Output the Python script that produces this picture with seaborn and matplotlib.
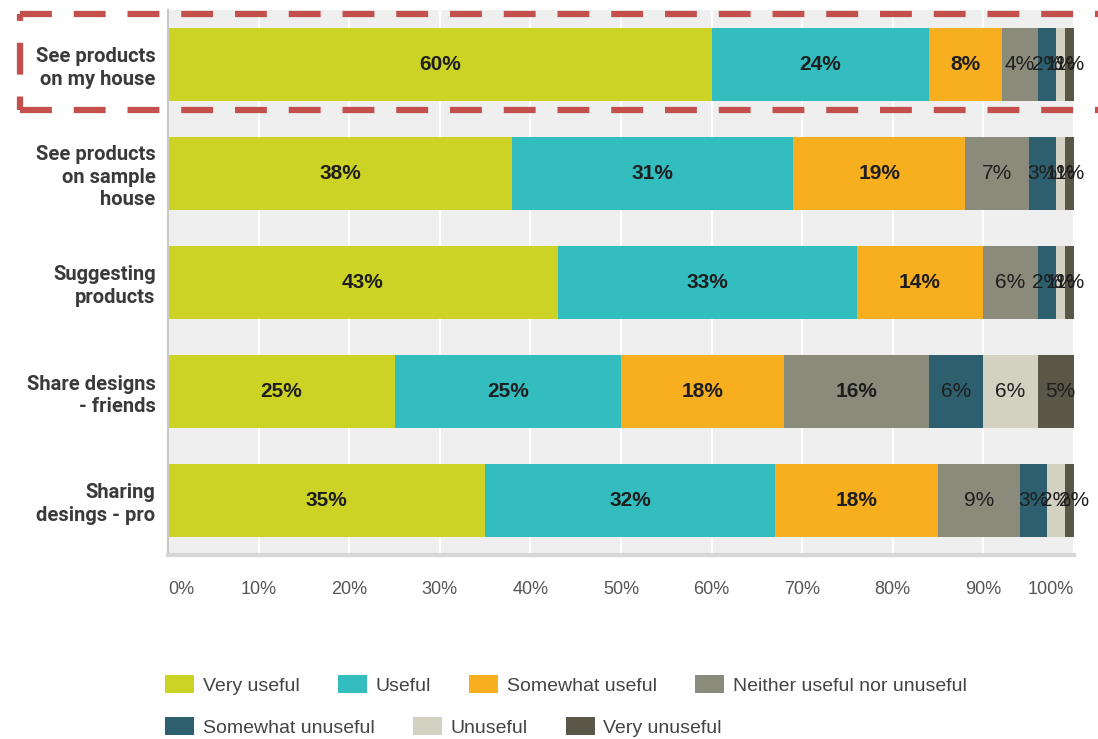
import numpy as np
import pandas as pd
import matplotlib
matplotlib.use("Agg")
import matplotlib.pyplot as plt
from matplotlib.lines import Line2D
from matplotlib.patches import Patch
import seaborn as sns

# Survey questions (top to bottom) and answer categories
questions = [
    "See products\non my house",
    "See products\non sample\nhouse",
    "Suggesting\nproducts",
    "Share designs\n- friends",
    "Sharing\ndesings - pro",
]
responses = [
    "Very useful",
    "Useful",
    "Somewhat useful",
    "Neither useful nor unuseful",
    "Somewhat unuseful",
    "Unuseful",
    "Very unuseful",
]

# Share of answers per question, in percent
very_useful = [60, 38, 43, 25, 35]
useful = [24, 31, 33, 25, 32]
somewhat_useful = [8, 19, 14, 18, 18]
neither = [4, 7, 6, 16, 9]
somewhat_unuseful = [2, 3, 2, 6, 3]
unuseful = [1, 1, 1, 6, 2]
very_unuseful = [1, 1, 1, 5, 2]

palette = ["#CDD325", "#33BDBF", "#F7AE1F", "#8A8B7A", "#2D5F6E", "#D3D1C1", "#5A5748"]
x_ticks = [0, 10, 20, 30, 40, 50, 60, 70, 80, 90, 100]

values = np.array([very_useful, useful, somewhat_useful, neither,
                   somewhat_unuseful, unuseful, very_unuseful]).T
cum = values.cumsum(axis=1)
df = pd.DataFrame(cum, columns=responses)
df["question"] = questions

sns.set_style("white", {"axes.facecolor": "#EFEFEF"})
plt.rcParams["font.family"] = ["Liberation Sans", "DejaVu Sans"]

fig = plt.figure(figsize=(10.98, 7.39), dpi=100)
ax = fig.add_axes([168 / 1098, 1 - 555 / 739, (1074 - 168) / 1098, (555 - 10) / 739])

# Stacked bars: draw cumulative totals from the last category backwards
for j in range(len(responses) - 1, -1, -1):
    sns.barplot(data=df, x=responses[j], y="question", orient="h",
                color=palette[j], saturation=1, width=0.67,
                linewidth=0, ax=ax, zorder=2)

# Value labels centred in each segment
for i in range(len(questions)):
    for j in range(len(responses)):
        v = values[i, j]
        centre = cum[i, j] - v / 2
        bold = j < 3 or v >= 10
        ax.text(centre, i, f"{v}%", ha="center", va="center",
                fontsize=15, color="#1E1E1E",
                fontweight="bold" if bold else "normal", zorder=3)

ax.set_xlim(0, 100)
ax.set_ylim(4.5, -0.5)
ax.set_xlabel("")
ax.set_ylabel("")

ax.set_axisbelow(True)
ax.xaxis.grid(True, color="white", linewidth=1.6, zorder=0)
ax.yaxis.grid(False)

ax.set_xticks(x_ticks)
ax.set_xticklabels([f"{t}%" for t in x_ticks])
ax.tick_params(axis="x", length=0, pad=19, labelsize=13, labelcolor="#555555")
ax.tick_params(axis="y", length=0, pad=9)
xl = ax.get_xticklabels()
xl[0].set_ha("left")
xl[-1].set_ha("right")

for lab in ax.get_yticklabels():
    lab.set_fontfamily(["Roboto", "DejaVu Sans"])
    lab.set_fontweight("bold")
    lab.set_fontsize(14.5)
    lab.set_color("#3A3A3A")
    lab.set_multialignment("right")
    lab.set_linespacing(1.22)

for s in ["top", "right"]:
    ax.spines[s].set_visible(False)
ax.spines["left"].set_color("#C8C8C8")
ax.spines["left"].set_linewidth(1.5)
ax.spines["bottom"].set_color("#D6D6D6")
ax.spines["bottom"].set_linewidth(3)

# Legend in two rows
handles = [Patch(facecolor=c, edgecolor="none") for c in palette]
leg_kw = dict(frameon=False, fontsize=14, handlelength=1.5, handleheight=1.05,
              handletextpad=0.45, columnspacing=1.95, borderpad=0,
              borderaxespad=0, loc="center left", labelcolor="#444444")
leg1 = fig.legend(handles[:4], responses[:4], ncol=4,
                  bbox_to_anchor=(165 / 1098, 1 - 685 / 739), **leg_kw)
leg2 = fig.legend(handles[4:], responses[4:], ncol=3,
                  bbox_to_anchor=(165 / 1098, 1 - 727 / 739), **leg_kw)

# Dashed highlight frame around the first question
red = "#C4504D"
lw = 4.5
x0, x1 = 20 / 1098, 1110 / 1098
y_top, y_bot = 1 - 14 / 739, 1 - 110 / 739
dash = (5.1, 3.5)
fig.add_artist(Line2D([x0, x1], [y_top, y_top], transform=fig.transFigure,
                      color=red, lw=lw, linestyle=(0, dash)))
fig.add_artist(Line2D([x0, x1], [y_bot, y_bot], transform=fig.transFigure,
                      color=red, lw=lw, linestyle=(0, dash)))
fig.add_artist(Line2D([x0, x0], [y_top, y_bot], transform=fig.transFigure,
                      color=red, lw=lw, linestyle=(4.0, dash)))

fig.savefig("out.png", dpi=100, facecolor="white")
